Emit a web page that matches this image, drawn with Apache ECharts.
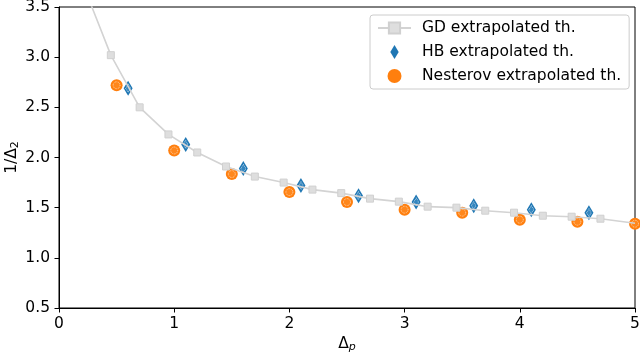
<!DOCTYPE html>
<html><head><meta charset="utf-8">
<script src="https://cdn.jsdelivr.net/npm/echarts@6/dist/echarts.min.js"></script>
<style>html,body{margin:0;padding:0;background:#fff}#c{width:640px;height:358px}</style>
</head><body><div id="c"></div>
<script>
// GD extrapolated threshold (line; first and last points carry no marker)
const gdX = [0.2, 0.45, 0.7, 0.95, 1.2, 1.45, 1.7, 1.95, 2.2, 2.45, 2.7, 2.95, 3.2, 3.45, 3.7, 3.95, 4.2, 4.45, 4.7, 5.0];
const gdY = [3.75, 3.02, 2.50, 2.23, 2.05, 1.91, 1.81, 1.75, 1.68, 1.645, 1.59, 1.56, 1.51, 1.50, 1.47, 1.45, 1.42, 1.41, 1.39, 1.345];
// Heavy-ball extrapolated threshold
const hbX = [0.6, 1.1, 1.6, 2.1, 2.6, 3.1, 3.6, 4.1, 4.6];
const hbY = [2.69, 2.13, 1.89, 1.72, 1.62, 1.556, 1.52, 1.48, 1.45];
// Nesterov extrapolated threshold
const nesX = [0.5, 1.0, 1.5, 2.0, 2.5, 3.0, 3.5, 4.0, 4.5, 5.0];
const nesY = [2.72, 2.07, 1.835, 1.655, 1.556, 1.48, 1.45, 1.38, 1.36, 1.34];
const seriesNames = ['GD extrapolated th.', 'HB extrapolated th.', 'Nesterov extrapolated th.'];

const FONT = 'DejaVu Sans';
const FS = 15.5;
const DIAMOND = 'path://M3,0 L6,5 L3,10 L0,5 Z';
const gdData = gdX.map((x, i) => {
  const d = {value: [x, gdY[i]]};
  if (i === 0 || i === gdX.length - 1) d.symbol = 'none';
  return d;
});
const hbData = hbX.map((x, i) => [x, hbY[i]]);
const nesData = nesX.map((x, i) => [x, nesY[i]]);

const chart = echarts.init(document.getElementById('c'), null, {renderer: 'canvas'});
chart.setOption({
  animation: false,
  grid: {left: 59, right: 5, top: 7, bottom: 50, outerBoundsMode: 'none', containLabel: false,
    show: true, borderColor: '#000', borderWidth: 1},
  legend: {
    data: seriesNames.map(n => ({name: n})),
    orient: 'vertical', left: 370, top: 15,
    padding: [5, 8, 5, 7], itemGap: 8, itemWidth: 33, itemHeight: 14,
    symbolKeepAspect: true,
    backgroundColor: '#fff', borderColor: '#cccccc', borderWidth: 1, borderRadius: 3,
    textStyle: {fontFamily: FONT, fontSize: FS, color: '#000', padding: [0, 0, 0, 6]}
  },
  xAxis: {
    type: 'value', min: 0, max: 5, interval: 1,
    name: 'Δ{s|p}', nameLocation: 'middle', nameGap: 27, nameMoveOverlap: false,
    nameTextStyle: {fontFamily: FONT, fontSize: FS, color: '#000',
      rich: {s: {fontFamily: FONT, fontSize: 11, fontStyle: 'italic', color: '#000', padding: [7, 0, 0, 0]}}},
    axisLine: {lineStyle: {color: '#000', width: 1}},
    axisTick: {show: true, length: 4.5, lineStyle: {color: '#000'}},
    axisLabel: {fontFamily: FONT, fontSize: FS, color: '#000', margin: 8},
    splitLine: {show: false}
  },
  yAxis: {
    type: 'value', min: 0.5, max: 3.5, interval: 0.5,
    name: '1/Δ{s|2}', nameLocation: 'middle', nameGap: 38, nameRotate: 90, nameMoveOverlap: false,
    nameTextStyle: {fontFamily: FONT, fontSize: FS, color: '#000',
      rich: {s: {fontFamily: FONT, fontSize: 11, color: '#000', padding: [7, 0, 0, 0]}}},
    axisLine: {show: true, lineStyle: {color: '#000', width: 1}},
    axisTick: {show: true, length: 4.5, lineStyle: {color: '#000'}},
    axisLabel: {fontFamily: FONT, fontSize: FS, color: '#000', margin: 9,
      formatter: v => v.toFixed(1)},
    splitLine: {show: false}
  },
  series: [
    {
      name: seriesNames[0], type: 'line', data: gdData, clip: true,
      symbol: 'rect', symbolSize: 7, showAllSymbol: true,
      lineStyle: {color: '#d3d3d3', width: 1.6},
      itemStyle: {color: '#dedede', borderColor: '#d0d0d0', borderWidth: 1}
    },
    {
      name: seriesNames[1], type: 'scatter', data: hbData,
      symbol: DIAMOND, symbolSize: [9, 15],
      itemStyle: {color: '#1f77b4', opacity: 1}
    },
    {
      name: 'hbInner', type: 'scatter', data: hbData, silent: true,
      symbol: DIAMOND, symbolSize: [5, 8],
      itemStyle: {color: '#3a8ac2', borderColor: '#ffffff', borderWidth: 0.8, borderType: 'dotted'}
    },
    {
      name: seriesNames[2], type: 'scatter', data: nesData,
      symbol: 'circle', symbolSize: 12,
      itemStyle: {color: '#ff7f0e', opacity: 1}
    },
    {
      name: 'nesInner', type: 'scatter', data: nesData, silent: true,
      symbol: 'circle', symbolSize: 7,
      itemStyle: {color: '#ff8a20', borderColor: '#ffffff', borderWidth: 0.8, borderType: 'dotted'}
    }
  ]
});
</script></body></html>
